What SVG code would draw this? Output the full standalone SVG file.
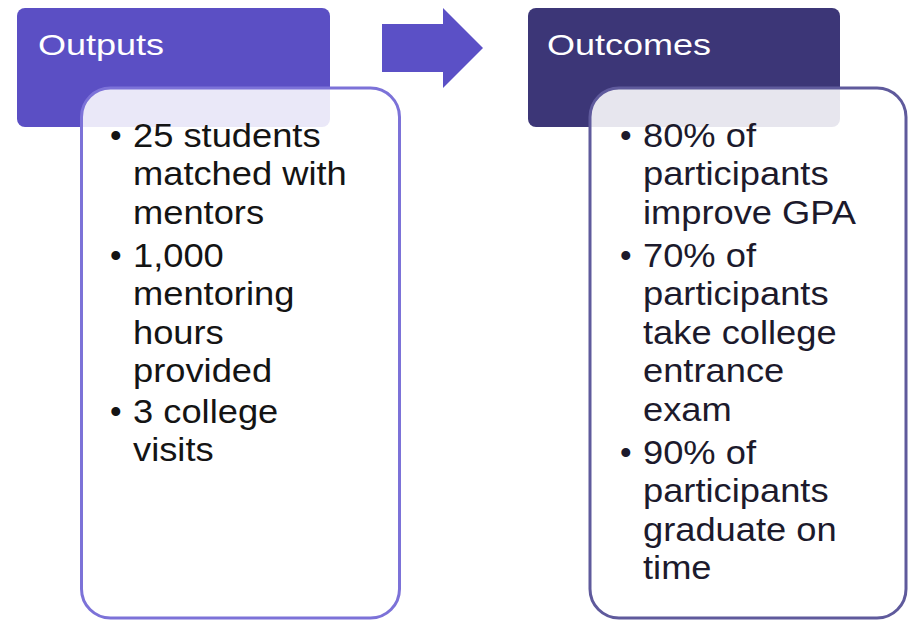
<svg xmlns="http://www.w3.org/2000/svg" width="915" height="620" viewBox="0 0 915 620">
<style>
.hdr{font-family:"Liberation Sans",Arial,sans-serif;font-size:30px;fill:#ffffff}
.body{font-family:"Liberation Sans",Arial,sans-serif;font-size:33px}
.left{fill:#141414}
.right{fill:#1c1a2c}
</style>
<rect width="915" height="620" fill="#ffffff"/>
<g id="outputs">
  <rect x="17" y="8" width="313" height="119" rx="8" fill="#5B4FC4"/>
  <text class="hdr" transform="translate(38,55) scale(1.2,1)">Outputs</text>
  <rect x="81.5" y="88" width="318" height="530" rx="29" fill="#ffffff" fill-opacity="0.87" stroke="#7C72D8" stroke-width="3"/>
  <g class="body left">
    <text x="110" y="147">•</text>
    <text x="110" y="267">•</text>
    <text x="110" y="423">•</text>
    <g transform="translate(133,0) scale(1.1,1)">
      <text x="0" y="147">25 students</text>
      <text x="0" y="185.5">matched with</text>
      <text x="0" y="224">mentors</text>
      <text x="0" y="267">1,000</text>
      <text x="0" y="305.5">mentoring</text>
      <text x="0" y="344">hours</text>
      <text x="0" y="382.5">provided</text>
      <text x="0" y="423">3 college</text>
      <text x="0" y="461.5">visits</text>
    </g>
  </g>
</g>
<g id="connectors">
  <polygon points="382,24 443,24 443,8 483,48 443,88 443,72 382,72" fill="#5B50C6"/>
</g>
<g id="outcomes">
  <rect x="528" y="8" width="312" height="119" rx="8" fill="#3C3677"/>
  <text class="hdr" transform="translate(547,55) scale(1.2,1)">Outcomes</text>
  <rect x="590" y="88" width="316" height="530" rx="29" fill="#ffffff" fill-opacity="0.88" stroke="#5F5A9C" stroke-width="3"/>
  <g class="body right">
    <text x="620" y="147">•</text>
    <text x="620" y="267">•</text>
    <text x="620" y="464">•</text>
    <g transform="translate(643,0) scale(1.1,1)">
      <text x="0" y="147">80% of</text>
      <text x="0" y="185.5">participants</text>
      <text x="0" y="224">improve GPA</text>
      <text x="0" y="267">70% of</text>
      <text x="0" y="305.5">participants</text>
      <text x="0" y="344">take college</text>
      <text x="0" y="382.5">entrance</text>
      <text x="0" y="421">exam</text>
      <text x="0" y="464">90% of</text>
      <text x="0" y="502.5">participants</text>
      <text x="0" y="541">graduate on</text>
      <text x="0" y="579.5">time</text>
    </g>
  </g>
</g>
</svg>
